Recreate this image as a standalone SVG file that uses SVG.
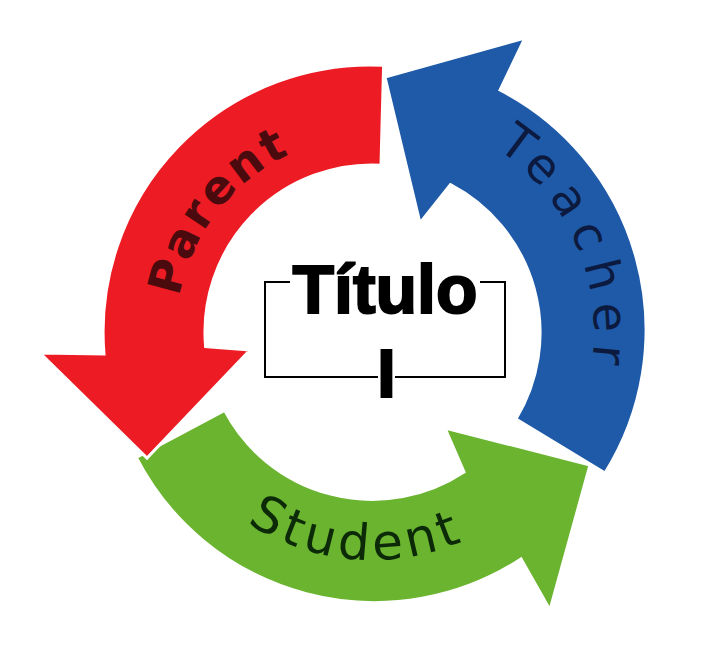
<svg xmlns="http://www.w3.org/2000/svg" width="714" height="654" viewBox="0 0 714 654">
  <style>
    .arrow { stroke: #ffffff; stroke-width: 3; stroke-linejoin: miter; }
    .lbl { font-family: "DejaVu Sans", "Noto Sans", sans-serif; }
    .title { font-family: "Liberation Sans", Arial, sans-serif; font-weight: bold; font-size: 68px; fill: #000; stroke: #000; stroke-width: 2; text-anchor: middle; }
    .box { fill: none; stroke: #000; stroke-width: 2; }
  </style>
  <defs>
    <path id="pParent" d="M176.2,339.9 A196,196 0 0 1 330.3,140.5"/>
    <path id="pTeacher" d="M433.2,118.6 A222,222 0 0 1 571.5,429.3"/>
    <path id="pStudent" d="M210.8,493.2 A228,228 0 0 0 502.8,518.8"/>
  </defs>
  <rect x="0" y="0" width="714" height="654" fill="#ffffff"/>
  <g id="connectors">
    <g id="teacher">
      <path class="arrow" fill="#1e5aa8" d="M605,473 A270,270 0 0 0 500,90 L525,38 L385,77 L420,223 L450.4,184.6 A167,167 0 0 1 516,419 Z"/>
      <text class="lbl" font-size="48" fill="#0c1a40"><textPath href="#pTeacher" startOffset="50%" text-anchor="middle" textLength="248" lengthAdjust="spacing">Teacher</textPath></text>
    </g>
    <g id="student">
      <path class="arrow" fill="#6ab42f" d="M136.3,457.4 A268,268 0 0 0 521,559 L550,610 L590,465 L445,428 L464,472 A167,167 0 0 1 224.6,410.4 Z"/>
      <text class="lbl" font-size="50" fill="#0d2a08"><textPath href="#pStudent" startOffset="50%" text-anchor="middle" textLength="225" lengthAdjust="spacing">Student</textPath></text>
    </g>
    <g id="parent">
      <path class="arrow" fill="#ed1c24" d="M383.6,65.3 A267,267 0 0 0 104,354 L40,353 L147,458 L250,350 L205.6,346.6 A167,167 0 0 1 381,165.2 Z"/>
      <text class="lbl" font-size="46" font-weight="bold" fill="#4a0a0e"><textPath href="#pParent" startOffset="50%" text-anchor="middle" textLength="187" lengthAdjust="spacing">Parent</textPath></text>
    </g>
  </g>
  <g id="title">
    <rect x="250" y="262" width="260" height="140" fill="#ffffff"/>
    <path class="box" d="M290,282 H265 V377 H378"/>
    <path class="box" d="M395,377 H505 V282 H480"/>
    <text class="title" x="385" y="313">Título</text>
    <text class="title" x="386.5" y="397">I</text>
  </g>
</svg>
